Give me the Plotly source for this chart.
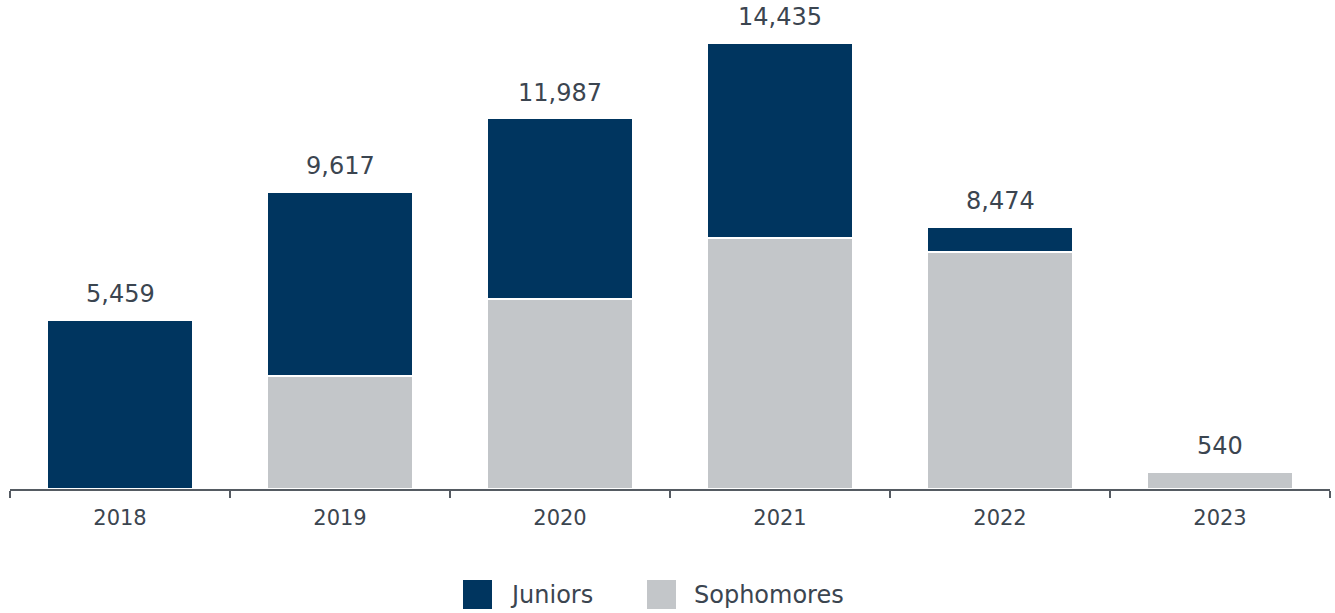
import plotly.graph_objects as go

years = ["2018", "2019", "2020", "2021", "2022", "2023"]
sophomores = [0, 3657, 6149, 8123, 7670, 540]
juniors = [5459, 5960, 5838, 6312, 804, 0]
totals = [5459, 9617, 11987, 14435, 8474, 540]
colors = {"Juniors": "#00355F", "Sophomores": "#C3C6C9"}

FONT = "DejaVu Sans, Verdana, sans-serif"
TEXT = "#3B4550"

fig = go.Figure()
fig.add_trace(go.Bar(x=years, y=sophomores, name="Sophomores",
                     marker=dict(color=colors["Sophomores"], line=dict(color="white", width=1.5)),
                     showlegend=False, hoverinfo="skip"))
fig.add_trace(go.Bar(x=years, y=juniors, name="Juniors",
                     marker=dict(color=colors["Juniors"], line=dict(color="white", width=1.5)),
                     showlegend=False, hoverinfo="skip"))

# total labels (x given as category index)
for i, t in enumerate(totals):
    fig.add_annotation(x=i, y=t, text=f"{t:,}", showarrow=False,
                       yanchor="middle", yshift=26,
                       font=dict(size=24, color=TEXT, family=FONT))

# manual legend (pixel-sized squares)
W, H, L, B = 1320, 489, 10, 124
def px(x):
    return (x - L) / W
def py(y):
    return (H - y) / H
legend_items = [("Juniors", 463), ("Sophomores", 647)]
for name, x0 in legend_items:
    fig.add_shape(type="rect", xref="paper", yref="paper",
                  x0=px(x0), x1=px(x0 + 29), y0=py(609), y1=py(580),
                  fillcolor=colors[name], line=dict(width=0))
    fig.add_annotation(xref="paper", yref="paper", x=px(x0 + 45), y=py(595),
                       text=name, showarrow=False, xanchor="left", yanchor="middle",
                       font=dict(size=24, color=TEXT, family=FONT))

fig.update_layout(
    barmode="stack", bargap=0.34,
    width=1335, height=613,
    margin=dict(l=L, r=5, t=0, b=B),
    plot_bgcolor="white", paper_bgcolor="white",
    font=dict(family=FONT, color=TEXT),
    xaxis=dict(type="category", range=[-0.5, len(years) - 0.5],
               showline=True, linecolor="#555B62", linewidth=1.5,
               ticks="outside", tickson="boundaries", ticklen=7, tickcolor="#555B62",
               tickwidth=1.5, tickfont=dict(size=21, color=TEXT, family=FONT),
               tickangle=0, ticklabelstandoff=9, showgrid=False),
    yaxis=dict(range=[0, 15826], visible=False, showgrid=False),
)

fig.write_html("out.html")
